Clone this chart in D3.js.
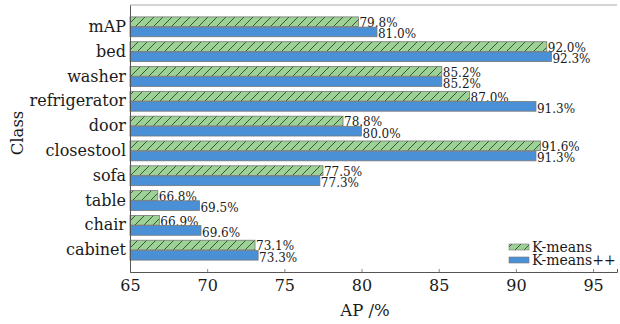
<!DOCTYPE html>
<html><head><meta charset="utf-8">
<script src="https://cdn.jsdelivr.net/npm/d3@7"></script>
<style>body{margin:0;background:#fff}svg{display:block}text{font-family:"DejaVu Serif","Liberation Serif",serif;fill:#1a1a1a}</style>
</head><body><svg id="c" width="620" height="324"></svg>
<script>
const categories = ["mAP","bed","washer","refrigerator","door","closestool","sofa","table","chair","cabinet"];
const kmeans = [79.8,92.0,85.2,87.0,78.8,91.6,77.5,66.8,66.9,73.1];
const kmeanspp = [81.0,92.3,85.2,91.3,80.0,91.3,77.3,69.5,69.6,73.3];
const seriesNames = ["K-means","K-means++"];
const xTicks = [65,70,75,80,85,90,95];

const svg = d3.select("#c");
const L = 130, R = 617, T = 5, B = 272;
const x = d3.scaleLinear().domain([65, 96.55]).range([L, R]);
const y = d3.scaleBand().domain(categories).range([T, B]).paddingInner(0.2).paddingOuter(0.48);
const sub = d3.scaleBand().domain(seriesNames).range([0, y.bandwidth()]).paddingInner(0.05);

const defs = svg.append("defs");
const pat = defs.append("pattern").attr("id","hatch").attr("patternUnits","userSpaceOnUse")
  .attr("width",9).attr("height",9);
pat.append("rect").attr("width",9).attr("height",9).attr("fill","#9dd296");
pat.append("path").attr("d","M-1,10 L10,-1 M-2,2 L2,-2 M7,11 L11,7").attr("stroke","#3a5537").attr("stroke-width",1);

const fills = ["url(#hatch)","#4a90d6"];
const data = [kmeans, kmeanspp];

// frame top
svg.append("line").attr("x1",L).attr("x2",R).attr("y1",T).attr("y2",T).attr("stroke","#aaa");

data.forEach((vals, si) => {
  const g = svg.append("g");
  g.selectAll("rect").data(categories).join("rect")
    .attr("x", x(65))
    .attr("y", d => y(d) + sub(seriesNames[si]))
    .attr("width", (d,i) => x(vals[i]) - x(65))
    .attr("height", sub.bandwidth())
    .attr("fill", fills[si])
    .attr("stroke","#777").attr("stroke-width",0.8);
  g.selectAll("text").data(categories).join("text")
    .attr("x", (d,i) => x(vals[i]) + 1)
    .attr("y", d => y(d) + sub(seriesNames[si]) + sub.bandwidth() + (si ? 1.5 : 0.5))
    .attr("font-size", 12)
    .text((d,i) => vals[i].toFixed(1) + "%");
});

// axes
const xa = svg.append("g").attr("transform",`translate(0,${B})`)
  .call(d3.axisBottom(x).tickValues(xTicks).tickSize(-3).tickPadding(8));
xa.select(".domain").attr("stroke","#555");
xa.selectAll(".tick line").attr("stroke","#888");
xa.selectAll("text").attr("font-size",16).attr("font-family","DejaVu Serif").attr("fill","#1a1a1a");

const ya = svg.append("g").attr("transform",`translate(${L},0)`)
  .call(d3.axisLeft(y).tickSize(0).tickPadding(4));
ya.select(".domain").attr("stroke","#555");
ya.selectAll("text").attr("font-size",16).attr("font-family","DejaVu Serif").attr("fill","#1a1a1a");

svg.append("text").attr("x",365).attr("y",316).attr("text-anchor","middle")
  .attr("font-size",16.5).text("AP /%");
svg.append("text").attr("transform","translate(23,133) rotate(-90)").attr("text-anchor","middle")
  .attr("font-size",16.5).text("Class");

// legend
const lg = svg.append("g");
seriesNames.forEach((n,i) => {
  lg.append("rect").attr("x",509).attr("y",244+i*13).attr("width",20).attr("height",6)
    .attr("fill",fills[i]).attr("stroke","#777").attr("stroke-width",0.6);
  lg.append("text").attr("x",532).attr("y",252+i*13).attr("font-size",14).text(n);
});
</script></body></html>
